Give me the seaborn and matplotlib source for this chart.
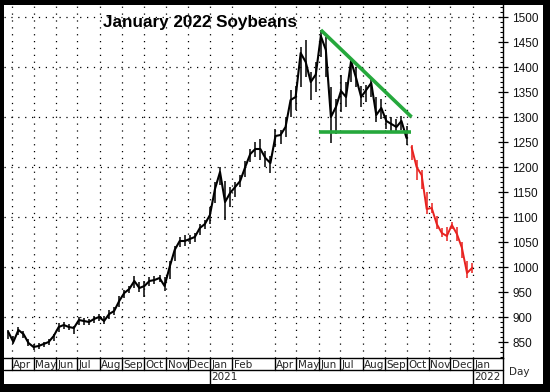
import matplotlib
matplotlib.use("Agg")
import matplotlib.pyplot as plt
import matplotlib.transforms as mtransforms
from matplotlib.patches import Rectangle
from matplotlib.ticker import MultipleLocator
import numpy as np
import pandas as pd
import seaborn as sns

sns.set_style("white")
plt.rcParams['font.family'] = ['Liberation Sans', 'DejaVu Sans']

# ---------------- data ----------------
TITLE = "January 2022 Soybeans"
first_week = "2020-03-27"   # weekly samples (Fridays)

close_hist = [870, 850, 874, 866, 848, 840, 842, 846, 850, 862,
              880, 884, 880, 878, 894, 892, 890, 896, 900, 892,
              906, 912, 932, 948, 956, 972, 958, 962, 972, 974,
              978, 962, 1000, 1034, 1052, 1052, 1056, 1060, 1078, 1086,
              1104, 1156, 1190, 1130, 1148, 1160, 1172, 1200, 1226, 1236,
              1236, 1218, 1208, 1262, 1264, 1280, 1334, 1340, 1428, 1410,
              1370, 1385, 1462, 1434, 1300, 1320, 1352, 1340, 1412, 1378,
              1340, 1354, 1368, 1304, 1318, 1292, 1286, 1280, 1292, 1258]
low_hist = [856, 846, 864, 858, 842, 834, 836, 840, 844, 852,
            870, 876, 874, 866, 884, 884, 884, 888, 892, 886,
            896, 904, 920, 938, 948, 958, 950, 940, 962, 966,
            970, 952, 976, 1012, 1040, 1042, 1046, 1050, 1064, 1076,
            1086, 1128, 1164, 1094, 1120, 1140, 1160, 1180, 1210, 1220,
            1214, 1200, 1188, 1240, 1246, 1260, 1300, 1314, 1360, 1380,
            1334, 1350, 1420, 1380, 1248, 1266, 1310, 1320, 1370, 1360,
            1320, 1330, 1340, 1290, 1296, 1276, 1270, 1268, 1274, 1244]
high_hist = [874, 862, 880, 872, 856, 846, 848, 850, 856, 866,
             888, 890, 886, 882, 900, 898, 896, 902, 906, 902,
             914, 920, 942, 954, 962, 982, 970, 972, 980, 982,
             984, 980, 1012, 1042, 1060, 1064, 1064, 1068, 1086, 1094,
             1120, 1170, 1200, 1172, 1160, 1170, 1184, 1212, 1236, 1250,
             1256, 1232, 1222, 1276, 1274, 1300, 1354, 1362, 1440, 1454,
             1390, 1410, 1474, 1460, 1360, 1336, 1384, 1370, 1416, 1400,
             1362, 1364, 1378, 1340, 1336, 1304, 1300, 1296, 1302, 1282]

close_proj = [1240, 1200, 1184, 1116, 1118, 1086, 1068, 1062, 1084, 1066, 1038, 988, 998]
low_proj = [1214, 1174, 1156, 1106, 1108, 1076, 1060, 1052, 1076, 1052, 1018, 978, 988]
high_proj = [1244, 1214, 1194, 1150, 1128, 1102, 1078, 1080, 1090, 1080, 1050, 1012, 1008]

upper_trend_dates = ["2021-06-04", "2021-10-08"]
upper_trend_values = [1474, 1300]
lower_trend_dates = ["2021-06-01", "2021-10-07"]
lower_trend_values = [1270, 1270]

y_ticks = list(range(850, 1501, 50))
grid_levels = list(range(900, 1501, 100))
month_names = ["Jan", "Feb", "Mar", "Apr", "May", "Jun",
               "Jul", "Aug", "Sep", "Oct", "Nov", "Dec"]
first_month, last_month = "2020-04-01", "2022-01-01"
omitted_months = ["2021-03-01"]          # the source chart skips this divider
x_range = ["2020-03-21", "2022-02-12"]
y_range = [818, 1524]
x_label = "Day"

# ---------------- build frames ----------------
n_hist, n_proj = len(close_hist), len(close_proj)
weeks = pd.date_range(first_week, periods=n_hist + n_proj, freq="7D")
hist = pd.DataFrame({"date": weeks[:n_hist], "close": close_hist,
                     "low": low_hist, "high": high_hist})
proj = pd.DataFrame({"date": weeks[n_hist:], "close": close_proj,
                     "low": low_proj, "high": high_proj})
month_starts = [d for d in pd.date_range(first_month, last_month, freq="MS")
                if d not in pd.to_datetime(omitted_months)]

W, H = 550, 392
fig = plt.figure(figsize=(W / 100, H / 100), dpi=100)
fig.patch.set_facecolor("white")

# main plotting area (pixel geometry from the reference)
L, R, T, B = 4, 503, 5, 358
ax = fig.add_axes([L / W, 1 - B / H, (R - L) / W, (B - T) / H])
ax.set_facecolor("white")

xmin, xmax = pd.Timestamp(x_range[0]), pd.Timestamp(x_range[1])
ax.set_xlim(xmin, xmax)
ax.set_ylim(*y_range)

# dotted grid
dots = (0, (1, 4.5))
for d in month_starts:
    ax.axvline(d, color="black", lw=0.9, ls=dots, zorder=0)
for lv in grid_levels:
    ax.axhline(lv, color="black", lw=0.9, ls=dots, zorder=0)

# price bars + path
red = "#e8221f"
ax.vlines(hist["date"], hist["low"], hist["high"], color="black", lw=1.1, zorder=3)
sns.lineplot(data=hist, x="date", y="close", color="black", lw=1.5, ax=ax, zorder=3)
ax.vlines(proj["date"], proj["low"], proj["high"], color=red, lw=1.1, zorder=3)
sns.lineplot(data=proj, x="date", y="close", color=red, lw=1.4, ax=ax, zorder=3)

# triangle lines
green = "#25a83c"
ax.plot(pd.to_datetime(upper_trend_dates), upper_trend_values, color=green, lw=2.6,
        solid_capstyle="butt", zorder=4)
ax.plot(pd.to_datetime(lower_trend_dates), lower_trend_values, color=green, lw=2.6,
        solid_capstyle="butt", zorder=4)

# axes styling
ax.set_xlabel("")
ax.set_ylabel("")
ax.set_xticks([])
ax.yaxis.tick_right()
ax.set_yticks(y_ticks)
ax.set_yticklabels([str(v) for v in y_ticks], fontsize=8.5, color="#111111")
ax.yaxis.set_minor_locator(MultipleLocator(10))
ax.tick_params(axis="y", which="major", direction="inout", length=7, width=0.9,
               pad=3, right=True, left=False, color="black")
ax.tick_params(axis="y", which="minor", direction="in", length=2.5, width=0.8,
               right=True, left=False, color="black")
for s in ["top", "left"]:
    ax.spines[s].set_visible(False)
for s in ["right", "bottom"]:
    ax.spines[s].set_visible(True)
    ax.spines[s].set_color("black")
    ax.spines[s].set_linewidth(1.0)

# month strip
SB = 384
axm = fig.add_axes([L / W, 1 - SB / H, (R - L) / W, (SB - B) / H])
axm.set_xlim(xmin, xmax)
axm.set_ylim(SB - B, 0)
axm.axis("off")
axm.plot([xmin, xmax], [12, 12], color="black", lw=1.0, clip_on=False)
axm.plot([xmax, xmax], [0, SB - B], color="black", lw=1.0, clip_on=False)
lab_tr = mtransforms.offset_copy(axm.transData, fig=fig, x=1.5, y=0, units="dots")
for d in month_starts:
    bottom = SB - B if d.month == 1 else 12
    axm.plot([d, d], [0, bottom], color="black", lw=1.0)
    axm.text(d, 6.5, month_names[d.month - 1], transform=lab_tr, fontsize=7.5,
             ha="left", va="center", family="DejaVu Sans")
    if d.month == 1:
        axm.text(d, 19.5, str(d.year), transform=lab_tr, fontsize=7.5,
                 ha="left", va="center", family="DejaVu Sans")

fig.text(509 / W, 1 - 372 / H, x_label, fontsize=7.5, ha="left", va="center",
         family="DejaVu Sans")

# title
fig.text(103 / W, 1 - 23 / H, TITLE, fontsize=12.3, fontweight="bold",
         color="black", ha="left", va="center")

# outer black frame
for (x0, y0, w, h) in [(0, 0, W, 5), (0, 0, 4, H), (543, 0, 7, H), (0, 384, W, 8)]:
    fig.patches.append(Rectangle((x0 / W, 1 - (y0 + h) / H), w / W, h / H,
                                 transform=fig.transFigure, facecolor="black",
                                 edgecolor="none", zorder=10))

fig.savefig("out.png", dpi=100, facecolor="white")
